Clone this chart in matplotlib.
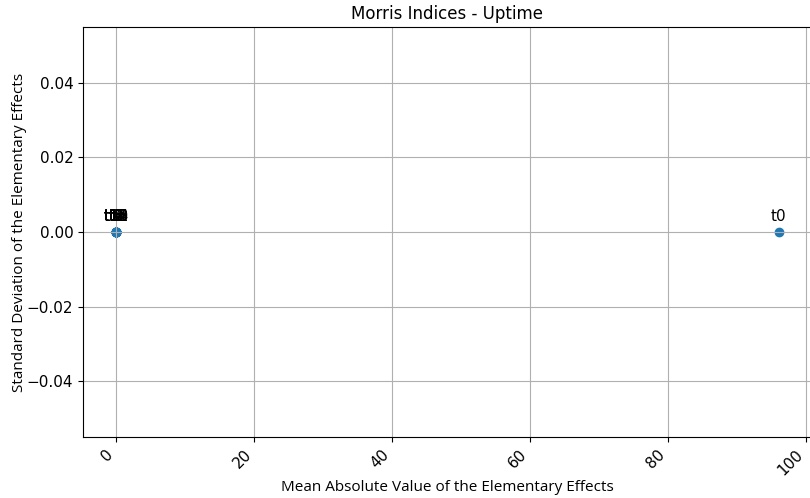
import numpy as np
import matplotlib.pyplot as plt

# Morris screening results for the uptime output
names = ['t0', 't1', 't2', 't3', 't4', 't5', 't6', 't7', 't8', 't9',
         't10', 't11', 't12', 't13', 't14', 't15']
mu_star = [96.0, 0, 0, 0, 0, 0, 0, 0, 0, 0, 0, 0, 0, 0, 0, 0]
sigma = [0, 0, 0, 0, 0, 0, 0, 0, 0, 0, 0, 0, 0, 0, 0, 0]

fig = plt.figure(figsize=(8.1, 4.98), dpi=100)
ax = fig.add_axes([0.1025, 0.1225, 0.8995, 0.8235])

ax.scatter(mu_star, sigma)
for name, x, y in zip(names, mu_star, sigma):
    ax.annotate(name, (x, y), textcoords='offset points', xytext=(0, 8),
                ha='center', fontsize=11)

ax.set_title('Morris Indices - Uptime', fontsize=12)
ax.set_xlabel('Mean Absolute Value of the Elementary Effects',
              family='Open Sans', fontsize=11, labelpad=1.5)
ax.set_ylabel('Standard Deviation of the Elementary Effects',
              family='Open Sans', fontsize=11, labelpad=0)
ax.tick_params(labelsize=11)
plt.setp(ax.get_xticklabels(), rotation=45, ha='right')
ax.grid(True)

fig.savefig('out.png', dpi=100)
